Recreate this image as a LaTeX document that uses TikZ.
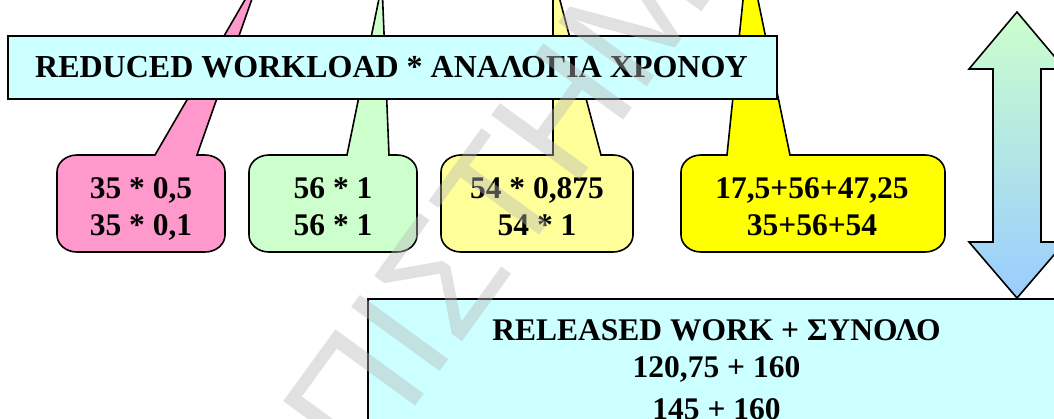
\documentclass[tikz,border=0pt]{standalone}
\usepackage{fontspec}
\setmainfont{Liberation Serif}
\newfontfamily\wmfont{Liberation Sans}
\definecolor{cpink}{HTML}{FF99CC}
\definecolor{cgreen}{HTML}{CCFFCC}
\definecolor{clyellow}{HTML}{FFFF99}
\definecolor{cyellow}{HTML}{FFFF00}
\definecolor{ccyan}{HTML}{CCFFFF}
\definecolor{arrtop}{HTML}{CCFFCC}
\definecolor{arrbot}{HTML}{99CCFF}
\definecolor{wmgray}{RGB}{184,184,184}
\newcommand\rxx{20}
\newcommand\ryy{17}
% #1 fill, #2 left, #3 right, #4 top, #5 bottom, #6 tailL, #7 tailR, #8 apex x, #9 apex y
\newcommand\mycallout[9]{%
  \filldraw[outl, fill=#1] (#7,#4) -- ({#3-\rxx},#4)
    arc[start angle=90,end angle=0,x radius=\rxx,y radius=\ryy] -- (#3,{#5+\ryy})
    arc[start angle=0,end angle=-90,x radius=\rxx,y radius=\ryy] -- ({#2+\rxx},#5)
    arc[start angle=270,end angle=180,x radius=\rxx,y radius=\ryy] -- (#2,{#4-\ryy})
    arc[start angle=180,end angle=90,x radius=\rxx,y radius=\ryy] -- (#6,#4)
    -- (#8,#9) -- cycle;}
\begin{document}
\begin{tikzpicture}[x=1pt,y=1pt,
  outl/.style={draw=black, line width=1.6pt, line join=miter},
  txt/.style={inner sep=0pt, anchor=base, font=\fontsize{31.5}{37}\selectfont\bfseries},
  ttl/.style={inner sep=0pt, anchor=base, font=\fontsize{32}{38}\selectfont\bfseries},
  wm/.style={inner sep=0pt, anchor=base west, text=wmgray, text opacity=0.42,
    font=\wmfont\fontsize{159}{160}\selectfont}]
\useasboundingbox (0,0) rectangle (1054,-418);
\clip (0,0) rectangle (1054,-418);
\fill[white] (0,0) rectangle (1054,-418);
% callouts
\mycallout{cpink}{57}{225}{-155}{-252}{155}{197}{262}{29.5}
\mycallout{cgreen}{249}{417}{-155}{-252}{347}{389}{382}{16}
\mycallout{clyellow}{441}{633}{-155}{-252}{553}{601}{553}{26}
\mycallout{cyellow}{681}{945}{-155}{-252}{727}{790}{748}{48.5}
\node[txt] (p1) at (141,-198) {35 * 0,5};
\node[txt] (p2) at (141,-235.5) {35 * 0,1};
\node[txt] (g1) at (333,-198) {56 * 1};
\node[txt] (g2) at (333,-235.5) {56 * 1};
\node[txt] (l1) at (537,-198) {54 * 0,875};
\node[txt] (l2) at (537,-235.5) {54 * 1};
\node[txt] (y1) at (812,-198) {17,5+56+47,25};
\node[txt] (y2) at (812,-235.5) {35+56+54};
% title box
\filldraw[outl, fill=ccyan] (8,-36) rectangle (777,-99);
\node[ttl] (title) at (391.5,-77) {REDUCED WORKLOAD * ΑΝΑΛΟΓΙΑ ΧΡΟΝΟΥ};
% double arrow
\path[top color=arrtop, bottom color=arrbot] (1017,-12) -- (1065,-69) -- (1041,-69) -- (1041,-242) -- (1065,-242) -- (1017,-298) -- (969,-242) -- (993,-242) -- (993,-69) -- (969,-69) -- cycle;
\draw[outl] (1017,-12) -- (1065,-69) -- (1041,-69) -- (1041,-242) -- (1065,-242) -- (1017,-298) -- (969,-242) -- (993,-242) -- (993,-69) -- (969,-69) -- cycle;
% released box
\filldraw[outl, fill=ccyan] (368,-299) rectangle (1070,-440);
\node[txt] (r1) at (716.5,-340) {RELEASED WORK + ΣΥΝΟΛΟ};
\node[txt] (r2) at (716.5,-377) {120,75 + 160};
\node[txt] (r3) at (716.5,-419) {145 + 160};
% watermark
\node[wm, rotate=54] (wmark) at (364,-477) {ΠΙΣΤΗΜΙΟ};
\end{tikzpicture}
\end{document}
